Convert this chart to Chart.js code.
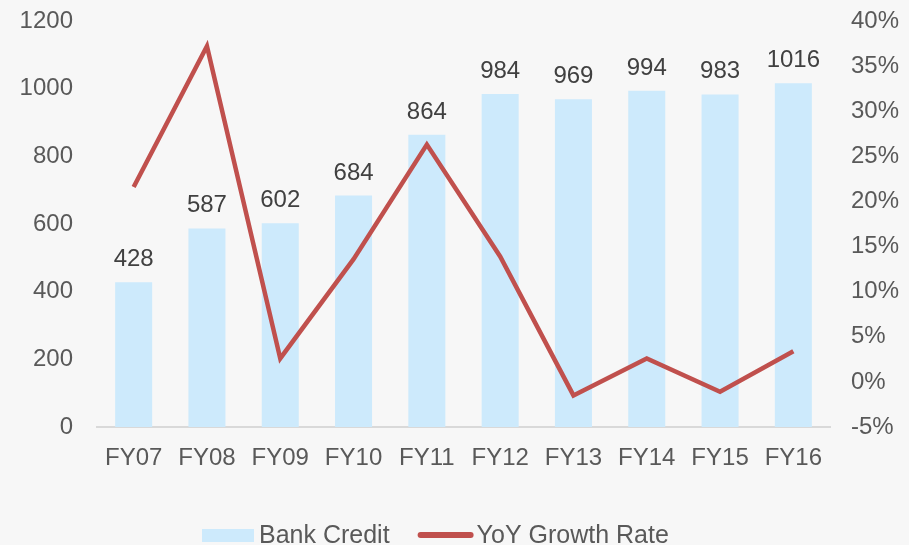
<!DOCTYPE html>
<html lang="en">
<head>
    <meta charset="UTF-8">
    <title>Bank Credit</title>
    <style>
        html, body { margin: 0; padding: 0; background: #f7f7f7; }
        #wrap { width: 909px; height: 545px; }
    </style>
    <script src="https://cdn.jsdelivr.net/npm/chart.js@4.4.1/dist/chart.umd.min.js"></script>
</head>
<body>
    <div id="wrap"><canvas id="graph"></canvas></div>
    <script>
        const years = ['FY07', 'FY08', 'FY09', 'FY10', 'FY11', 'FY12', 'FY13', 'FY14', 'FY15', 'FY16']
        const bankCredit = [428, 587, 602, 684, 864, 984, 969, 994, 983, 1016]
        const growthRate = [21.6, 37.2, 2.6, 13.6, 26.3, 13.9, -1.5, 2.6, -1.1, 3.4]

        const font = 'Liberation Sans, Arial, sans-serif'
        const tickColor = '#595959'

        // value labels above the bars
        const barLabels = {
            id: 'barLabels',
            afterDatasetsDraw(chart) {
                const ctx = chart.ctx
                const meta = chart.getDatasetMeta(0)
                ctx.save()
                ctx.font = '24px ' + font
                ctx.fillStyle = '#404040'
                ctx.textAlign = 'center'
                ctx.textBaseline = 'alphabetic'
                meta.data.forEach((bar, i) => {
                    ctx.fillText(bankCredit[i], bar.x, bar.y - 16)
                })
                ctx.restore()
            }
        }

        // legend at the bottom, drawn by hand
        const bottomLegend = {
            id: 'bottomLegend',
            afterDraw(chart) {
                const ctx = chart.ctx
                const ds = chart.data.datasets
                ctx.save()
                ctx.font = '25px ' + font
                ctx.textBaseline = 'alphabetic'
                let x = 202
                ctx.fillStyle = ds[0].backgroundColor
                ctx.fillRect(x, 529, 52, 13)
                x += 57
                ctx.fillStyle = tickColor
                ctx.fillText(ds[0].label, x, 543)
                x += ctx.measureText(ds[0].label).width + 31
                ctx.strokeStyle = ds[1].borderColor
                ctx.lineWidth = 6
                ctx.lineCap = 'round'
                ctx.beginPath()
                ctx.moveTo(x, 535)
                ctx.lineTo(x + 50, 535)
                ctx.stroke()
                x += 56
                ctx.fillText(ds[1].label, x, 543)
                ctx.restore()
            }
        }

        // keep the y axes from pushing the plot area down
        function fitY(width) {
            return function (scale) {
                scale.width = width
                scale.paddingTop = 0
                scale.paddingBottom = 0
            }
        }

        let ctx1 = document.getElementById('graph').getContext('2d')
        let config = {
            data: {
                labels: years,
                datasets: [{
                    type: 'bar',
                    label: 'Bank Credit',
                    data: bankCredit,
                    yAxisID: 'y',
                    backgroundColor: '#cdeafc',
                    categoryPercentage: 1,
                    barPercentage: 0.505,
                    order: 1
                }, {
                    type: 'line',
                    label: 'YoY Growth Rate',
                    data: growthRate,
                    yAxisID: 'y2',
                    borderColor: '#c0504d',
                    borderWidth: 4.5,
                    pointRadius: 0,
                    tension: 0,
                    order: 0
                }]
            },
            options: {
                responsive: true,
                maintainAspectRatio: false,
                animation: false,
                layout: { padding: { top: 21, left: 0, right: 0, bottom: 0 } },
                plugins: {
                    legend: { display: false },
                    tooltip: { enabled: false }
                },
                scales: {
                    x: {
                        grid: { display: false, drawTicks: false },
                        border: { display: true, color: '#d9d9d9', width: 2 },
                        ticks: { color: tickColor, font: { family: font, size: 24 }, padding: 17 },
                        afterFit(scale) { scale.height = 118 }
                    },
                    y: {
                        position: 'left',
                        min: 0,
                        max: 1200,
                        grid: { display: false, drawTicks: false },
                        border: { display: false },
                        ticks: {
                            stepSize: 200,
                            color: tickColor,
                            font: { family: font, size: 24 },
                            padding: 24,
                            callback: v => String(v)
                        },
                        afterFit: fitY(97)
                    },
                    y2: {
                        position: 'right',
                        min: -5,
                        max: 40,
                        grid: { display: false, drawTicks: false },
                        border: { display: false },
                        ticks: {
                            stepSize: 5,
                            color: tickColor,
                            font: { family: font, size: 24 },
                            padding: 21,
                            callback: v => v + '%'
                        },
                        afterFit: fitY(79)
                    }
                }
            },
            plugins: [barLabels, bottomLegend]
        }
        let graph = new Chart(ctx1, config)
    </script>
</body>
</html>
